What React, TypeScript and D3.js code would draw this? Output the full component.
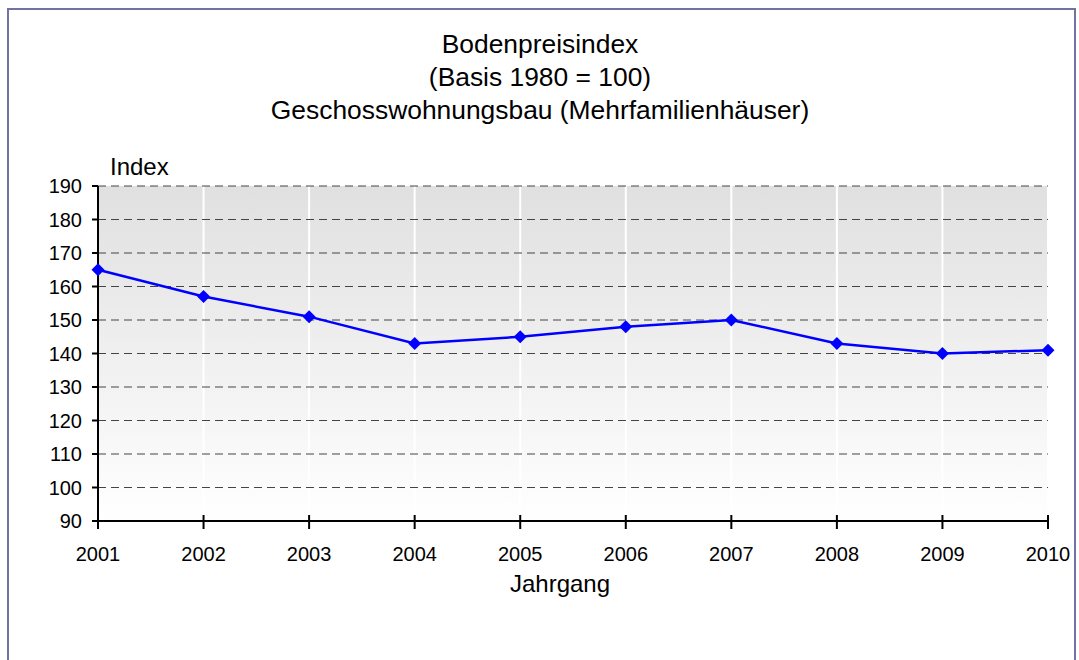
import React from "react";
import * as d3 from "d3";

const years = [2001, 2002, 2003, 2004, 2005, 2006, 2007, 2008, 2009, 2010];
const values = [165, 157, 151, 143, 145, 148, 150, 143, 140, 141];
const yTicks = [90, 100, 110, 120, 130, 140, 150, 160, 170, 180, 190];
const titleLines = ["Bodenpreisindex", "(Basis 1980 = 100)", "Geschosswohnungsbau (Mehrfamilienhäuser)"];

export default function App() {
  const W = 1079, H = 660;
  const x0 = 98, x1 = 1048, yTop = 186, yBot = 521;
  const x = d3.scalePoint<number>().domain(years).range([x0, x1]);
  const y = d3.scaleLinear().domain([90, 190]).range([yBot, yTop]);
  const line = d3.line<number>().x((_, i) => x(years[i])!).y((v) => y(v));
  const font = "Arial, 'Liberation Sans', sans-serif";
  const diamond = 6.5;
  return (
    <svg width={W} height={H} style={{ position: "absolute", left: 0, top: 0 }}>
      <defs>
        <linearGradient id="bg" x1="0" y1="0" x2="0" y2="1">
          <stop offset="0%" stopColor="#e0e0e0" />
          <stop offset="100%" stopColor="#ffffff" />
        </linearGradient>
      </defs>
      <rect x={0} y={0} width={W} height={H} fill="#fff" />
      <rect x={8} y={9} width={1067} height={700} fill="none" stroke="#7272a4" strokeWidth={2} />
      {titleLines.map((t, i) => (
        <text key={i} x={540} y={53 + i * 33} textAnchor="middle" fontFamily={font} fontSize={26.4} fill="#000">
          {t}
        </text>
      ))}
      <rect x={x0} y={yTop} width={x1 - x0} height={yBot - yTop} fill="url(#bg)" />
      {years.slice(1).map((yr) => (
        <line key={yr} x1={x(yr)} x2={x(yr)} y1={yTop} y2={yBot} stroke="#fff" strokeWidth={2} />
      ))}
      {yTicks.slice(1).map((t) => (
        <line key={t} x1={x0} x2={x1} y1={y(t)} y2={y(t)} stroke="#444" strokeWidth={1} strokeDasharray="8,5" />
      ))}
      <line x1={x0} x2={x0} y1={yTop} y2={yBot} stroke="#000" strokeWidth={2} />
      <line x1={x0} x2={x1} y1={yBot} y2={yBot} stroke="#000" strokeWidth={2} />
      {yTicks.map((t) => (
        <g key={t}>
          <line x1={x0 - 6} x2={x0} y1={y(t)} y2={y(t)} stroke="#000" strokeWidth={2} />
          <text x={82} y={y(t) + 7} textAnchor="end" fontFamily={font} fontSize={20} fill="#000">
            {t}
          </text>
        </g>
      ))}
      {years.map((yr) => (
        <g key={yr}>
          <line x1={x(yr)} x2={x(yr)} y1={yBot - 6} y2={yBot + 8} stroke="#000" strokeWidth={2} />
          <text x={x(yr)} y={561} textAnchor="middle" fontFamily={font} fontSize={20} fill="#000">
            {yr}
          </text>
        </g>
      ))}
      <text x={110} y={175} fontFamily={font} fontSize={24} fill="#000">Index</text>
      <text x={560} y={592} textAnchor="middle" fontFamily={font} fontSize={24} fill="#000">Jahrgang</text>
      <path d={line(values) || ""} fill="none" stroke="#0000ff" strokeWidth={2.5} />
      {values.map((v, i) => {
        const cx = x(years[i])!, cy = y(v);
        return (
          <path
            key={i}
            d={`M${cx},${cy - diamond}L${cx + diamond},${cy}L${cx},${cy + diamond}L${cx - diamond},${cy}Z`}
            fill="#0000ff"
          />
        );
      })}
    </svg>
  );
}
